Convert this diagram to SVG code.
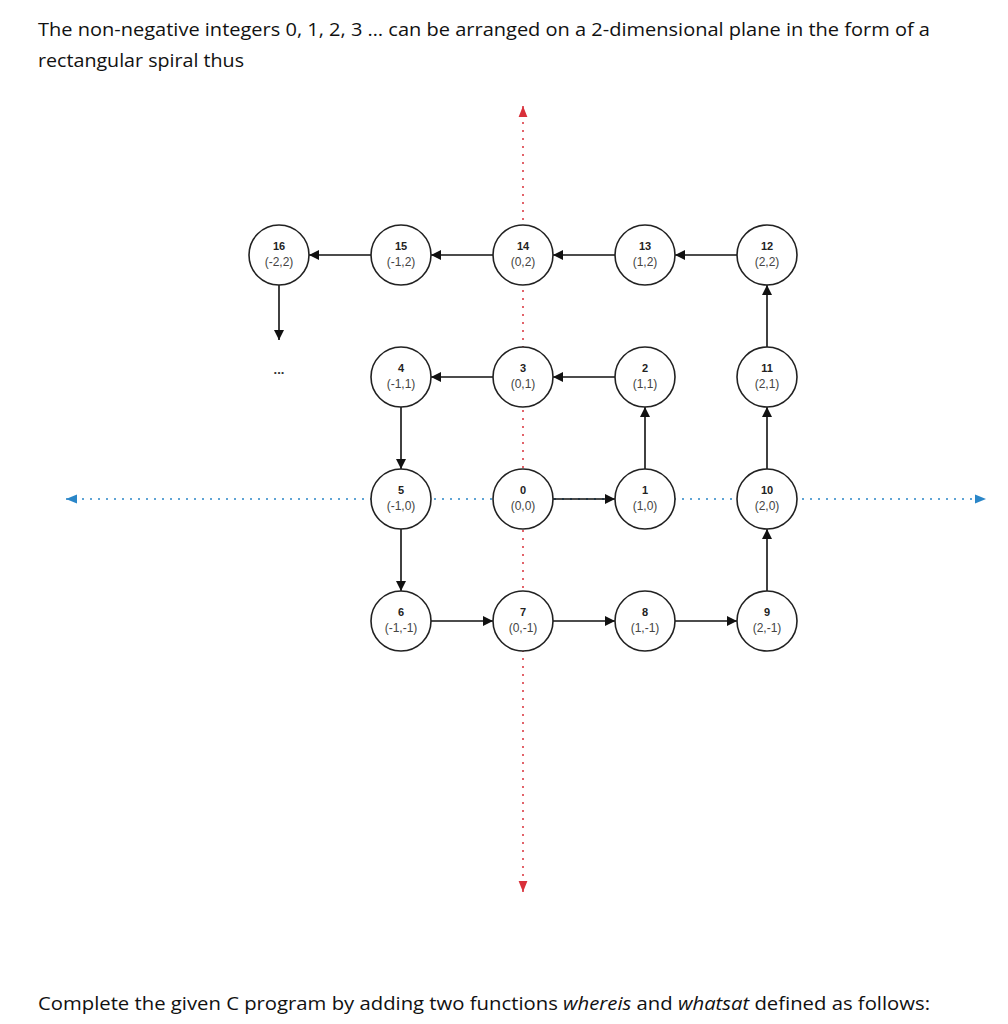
<svg xmlns="http://www.w3.org/2000/svg" width="1008" height="1024" viewBox="0 0 1008 1024">
<defs>
<style>
.n circle{fill:#fff;stroke:#222;stroke-width:1.6}
.num{font:bold 11px "Liberation Sans",Arial,sans-serif;fill:#222;text-anchor:middle}
.co{font:12px "Liberation Sans",Arial,sans-serif;fill:#444;text-anchor:middle}
.e{stroke:#111;stroke-width:1.6;fill:none;marker-end:url(#ah)}
.body{font:19px "Open Sans","Liberation Sans",sans-serif;fill:#111}
</style>
<marker id="ah" viewBox="0 0 10 10" refX="10" refY="5" markerWidth="11" markerHeight="10" markerUnits="userSpaceOnUse" orient="auto"><path d="M0,0L10,5L0,10z" fill="#111"/></marker>
<marker id="ab" viewBox="0 0 10 10" refX="10" refY="5" markerWidth="11" markerHeight="11" markerUnits="userSpaceOnUse" orient="auto-start-reverse"><path d="M0,1L10,5L0,9z" fill="#2a86c8"/></marker>
<marker id="ar" viewBox="0 0 10 10" refX="10" refY="5" markerWidth="11" markerHeight="11" markerUnits="userSpaceOnUse" orient="auto-start-reverse"><path d="M0,1L10,5L0,9z" fill="#d9303a"/></marker>
</defs>
<rect width="1008" height="1024" fill="#fff"/>
<text class="body" x="38" y="36" textLength="892" lengthAdjust="spacingAndGlyphs">The non-negative integers 0, 1, 2, 3 … can be arranged on a 2-dimensional plane in the form of a</text>
<text class="body" x="38" y="67" textLength="206" lengthAdjust="spacingAndGlyphs">rectangular spiral thus</text>
<text class="body" x="38" y="1010" textLength="892" lengthAdjust="spacingAndGlyphs">Complete the given C program by adding two functions <tspan font-style="italic">whereis</tspan> and <tspan font-style="italic">whatsat</tspan> defined as follows:</text>
<g id="axes">
<line x1="523" y1="106" x2="523" y2="892" stroke="#d9303a" stroke-width="1.5" stroke-dasharray="2,6" marker-start="url(#ar)" marker-end="url(#ar)"/>
<line x1="66" y1="499" x2="986" y2="499" stroke="#2a86c8" stroke-width="1.5" stroke-dasharray="2,6" marker-start="url(#ab)" marker-end="url(#ab)"/>
</g>
<g id="connectors">
<line class="e" x1="553" y1="499" x2="615" y2="499"/>
<line class="e" x1="645" y1="469" x2="645" y2="407"/>
<line class="e" x1="615" y1="377" x2="553" y2="377"/>
<line class="e" x1="493" y1="377" x2="431" y2="377"/>
<line class="e" x1="401" y1="407" x2="401" y2="469"/>
<line class="e" x1="401" y1="529" x2="401" y2="591"/>
<line class="e" x1="431" y1="621" x2="493" y2="621"/>
<line class="e" x1="553" y1="621" x2="615" y2="621"/>
<line class="e" x1="675" y1="621" x2="737" y2="621"/>
<line class="e" x1="767" y1="591" x2="767" y2="529"/>
<line class="e" x1="767" y1="469" x2="767" y2="407"/>
<line class="e" x1="767" y1="347" x2="767" y2="285"/>
<line class="e" x1="737" y1="255" x2="675" y2="255"/>
<line class="e" x1="615" y1="255" x2="553" y2="255"/>
<line class="e" x1="493" y1="255" x2="431" y2="255"/>
<line class="e" x1="371" y1="255" x2="309" y2="255"/>
<line class="e" x1="279" y1="285" x2="279" y2="340"/>
</g>
<text x="279" y="374" font-family="Liberation Sans,sans-serif" font-size="13" font-weight="bold" text-anchor="middle" fill="#333">...</text>
<g id="n0" class="n"><circle cx="523" cy="499" r="30"/><text class="num" x="523" y="494">0</text><text class="co" x="523" y="510">(0,0)</text></g>
<g id="n1" class="n"><circle cx="645" cy="499" r="30"/><text class="num" x="645" y="494">1</text><text class="co" x="645" y="510">(1,0)</text></g>
<g id="n2" class="n"><circle cx="645" cy="377" r="30"/><text class="num" x="645" y="372">2</text><text class="co" x="645" y="388">(1,1)</text></g>
<g id="n3" class="n"><circle cx="523" cy="377" r="30"/><text class="num" x="523" y="372">3</text><text class="co" x="523" y="388">(0,1)</text></g>
<g id="n4" class="n"><circle cx="401" cy="377" r="30"/><text class="num" x="401" y="372">4</text><text class="co" x="401" y="388">(-1,1)</text></g>
<g id="n5" class="n"><circle cx="401" cy="499" r="30"/><text class="num" x="401" y="494">5</text><text class="co" x="401" y="510">(-1,0)</text></g>
<g id="n6" class="n"><circle cx="401" cy="621" r="30"/><text class="num" x="401" y="616">6</text><text class="co" x="401" y="632">(-1,-1)</text></g>
<g id="n7" class="n"><circle cx="523" cy="621" r="30"/><text class="num" x="523" y="616">7</text><text class="co" x="523" y="632">(0,-1)</text></g>
<g id="n8" class="n"><circle cx="645" cy="621" r="30"/><text class="num" x="645" y="616">8</text><text class="co" x="645" y="632">(1,-1)</text></g>
<g id="n9" class="n"><circle cx="767" cy="621" r="30"/><text class="num" x="767" y="616">9</text><text class="co" x="767" y="632">(2,-1)</text></g>
<g id="n10" class="n"><circle cx="767" cy="499" r="30"/><text class="num" x="767" y="494">10</text><text class="co" x="767" y="510">(2,0)</text></g>
<g id="n11" class="n"><circle cx="767" cy="377" r="30"/><text class="num" x="767" y="372">11</text><text class="co" x="767" y="388">(2,1)</text></g>
<g id="n12" class="n"><circle cx="767" cy="255" r="30"/><text class="num" x="767" y="250">12</text><text class="co" x="767" y="266">(2,2)</text></g>
<g id="n13" class="n"><circle cx="645" cy="255" r="30"/><text class="num" x="645" y="250">13</text><text class="co" x="645" y="266">(1,2)</text></g>
<g id="n14" class="n"><circle cx="523" cy="255" r="30"/><text class="num" x="523" y="250">14</text><text class="co" x="523" y="266">(0,2)</text></g>
<g id="n15" class="n"><circle cx="401" cy="255" r="30"/><text class="num" x="401" y="250">15</text><text class="co" x="401" y="266">(-1,2)</text></g>
<g id="n16" class="n"><circle cx="279" cy="255" r="30"/><text class="num" x="279" y="250">16</text><text class="co" x="279" y="266">(-2,2)</text></g>
</svg>
